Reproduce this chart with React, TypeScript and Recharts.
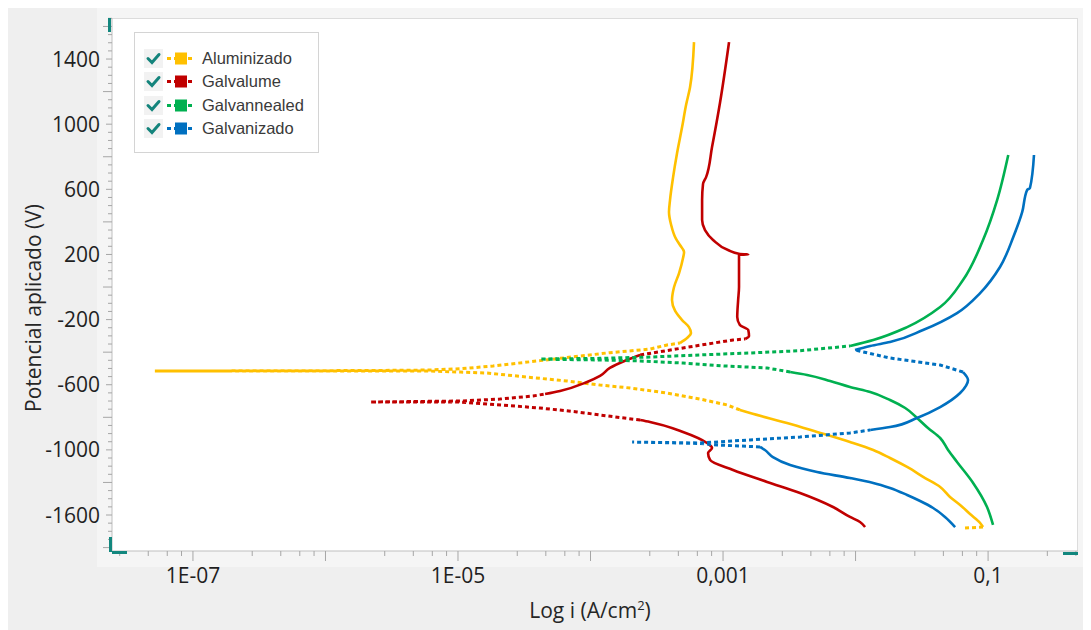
import React from 'react';
import { LineChart, Line, XAxis, YAxis } from 'recharts';

type Pt = [number, number]; // [i (A/cm2), E]

// Aluminizado
const aluStart: Pt[] = [[6.7e-2, -1480], [9.16e-2, -1474]];
const aluCathodic: Pt[] = [
  [9.16e-2, -1474], [8.71e-2, -1449], [7.31e-2, -1394], [6.15e-2, -1338], [5.16e-2, -1289],
  [4.35e-2, -1228], [3.35e-2, -1173], [2.45e-2, -1105], [1.82e-2, -1050], [1.36e-2, -1001],
  [9.08e-3, -952], [5.12e-3, -890], [3.04e-3, -835], [1.6e-3, -774], [1.34e-3, -755],
];
const aluEcorr: Pt[] = [
  [1.34e-3, -755], [1.07e-3, -724], [6.7e-4, -688], [3.78e-4, -651], [1.99e-4, -620],
  [1.18e-4, -602], [6.65e-5, -577], [3.32e-5, -553], [1.66e-5, -528], [1.04e-5, -522],
  [6.15e-6, -516], [1.82e-6, -516], [2.69e-7, -516], [5.16e-8, -516], [1.82e-6, -513],
  [5.83e-6, -510], [1.04e-5, -502], [1.84e-5, -485], [4.16e-5, -452], [5.89e-5, -438],
  [1.4e-4, -403], [2.81e-4, -381], [3.78e-4, -356], [4.73e-4, -344],
];
const aluAnodic: Pt[] = [
  [4.73e-4, -344], [5.35e-4, -313], [5.73e-4, -282], [5.53e-4, -246], [4.91e-4, -203],
  [4.35e-4, -147], [4.12e-4, -80], [4.27e-4, 0], [4.66e-4, 86], [4.99e-4, 178],
  [5.08e-4, 215], [4.73e-4, 258], [4.42e-4, 295], [4.06e-4, 381], [3.91e-4, 461],
  [3.98e-4, 534], [4.2e-4, 675], [4.5e-4, 823], [4.91e-4, 982], [5.26e-4, 1118],
  [5.64e-4, 1228], [6.04e-4, 1504],
];

// Galvalume
const galCathodic: Pt[] = [
  [1.18e-2, -1474], [1.08e-2, -1443], [9.08e-3, -1412], [6.76e-3, -1351], [3.81e-3, -1265],
  [2.15e-3, -1197], [1.19e-3, -1124], [7.98e-4, -1062], [7.71e-4, -1019], [8.26e-4, -988],
  [7.57e-4, -958], [4.99e-4, -890], [2.81e-4, -829], [2.37e-4, -817],
];
const galEcorr: Pt[] = [
  [2.37e-4, -817], [1.18e-4, -786], [7.91e-5, -767], [4.16e-5, -743], [1.66e-5, -718],
  [1.04e-5, -706], [2.17e-6, -706], [1.04e-5, -700], [2.07e-5, -688], [3.68e-5, -669],
  [4.54e-5, -657],
];
const galActive: Pt[] = [
  [4.54e-5, -657], [5.89e-5, -638], [9.42e-5, -583], [1.18e-4, -546], [1.4e-4, -497],
  [1.88e-4, -448], [2.37e-4, -417],
];
const galTransition: Pt[] = [[2.37e-4, -417], [4.99e-4, -374], [1.19e-3, -325], [1.47e-3, -319]];
const galPassive: Pt[] = [
  [1.47e-3, -319], [1.57e-3, -301], [1.55e-3, -264], [1.34e-3, -233], [1.28e-3, -184],
  [1.3e-3, -80], [1.32e-3, 0], [1.32e-3, 197], [1.55e-3, 200], [1.34e-3, 203],
  [1.09e-3, 227], [8.41e-4, 289], [7.31e-4, 350], [6.95e-4, 411], [6.95e-4, 534],
  [7.06e-4, 632], [7.45e-4, 675], [8.26e-4, 860], [9.48e-4, 1130], [1.11e-3, 1504],
];

// Galvannealed
const gvnCathodic: Pt[] = [
  [0.109, -1461], [9.82e-2, -1351], [7.71e-2, -1203], [5.83e-2, -1074], [4.99e-2, -1001],
  [4.35e-2, -927], [3.52e-2, -866], [2.91e-2, -804], [2.37e-2, -743], [1.82e-2, -694],
  [1.29e-2, -645], [9.08e-3, -614], [6.43e-3, -577], [4.31e-3, -540], [3.21e-3, -522],
];
const gvnEcorr: Pt[] = [
  [3.21e-3, -522], [2.15e-3, -497], [1.04e-3, -485], [4.99e-4, -467], [2.37e-4, -454],
  [1.18e-4, -448], [5.89e-5, -445], [4.16e-5, -442], [1.18e-4, -438], [2.81e-4, -430],
  [6.7e-4, -417], [1.6e-3, -405], [3.81e-3, -391], [9.08e-3, -362],
];
const gvnAnodic: Pt[] = [
  [9.08e-3, -362], [1.36e-2, -325], [2.45e-2, -246], [4.35e-2, -123], [6.47e-2, 43],
  [9.16e-2, 289], [0.117, 534], [0.142, 811],
];

// Galvanizado
const gvzCathodic: Pt[] = [
  [5.64e-2, -1474], [4.73e-2, -1412], [3.85e-2, -1357], [3.07e-2, -1314], [2.45e-2, -1277],
  [1.82e-2, -1234], [1.36e-2, -1203], [9.08e-3, -1173], [5.12e-3, -1136], [3.21e-3, -1093],
  [2.38e-3, -1044], [2.07e-3, -1001], [1.9e-3, -982],
];
const gvzEcorr: Pt[] = [
  [1.9e-3, -982], [1.34e-3, -976], [9.02e-4, -970], [6.7e-4, -961], [3.35e-4, -955],
  [2.06e-4, -952], [6.7e-4, -958], [1.6e-3, -939], [3.81e-3, -921], [9.08e-3, -896],
  [1.29e-2, -878],
];
const gvzPeak: Pt[] = [
  [1.29e-2, -878], [1.82e-2, -860], [2.91e-2, -804], [4.35e-2, -737], [6.15e-2, -651],
  [7.06e-2, -571], [6.47e-2, -522],
];
const gvzReturn: Pt[] = [[6.47e-2, -522], [4.35e-2, -479], [1.82e-2, -436], [9.91e-3, -387]];
const gvzAnodic: Pt[] = [
  [9.91e-3, -387], [1.29e-2, -362], [1.82e-2, -338], [3.23e-2, -264], [5.83e-2, -160],
  [8.71e-2, -37], [0.123, 123], [0.155, 307], [0.181, 461], [0.197, 596], [0.207, 608],
  [0.222, 811],
];

const seriesNames = ['Aluminizado', 'Galvalume', 'Galvannealed', 'Galvanizado'];
const seriesColors = ['#FFC000', '#C00000', '#00B050', '#0070C0'];
// each segment: [points, sparse (drawn dotted)]
const seriesSegments: [Pt[], boolean][][] = [
  [[aluStart, true], [aluCathodic, false], [aluEcorr, true], [aluAnodic, false]],
  [[galCathodic, false], [galEcorr, true], [galActive, false], [galTransition, true], [galPassive, false]],
  [[gvnCathodic, false], [gvnEcorr, true], [gvnAnodic, false]],
  [[gvzCathodic, false], [gvzEcorr, true], [gvzPeak, false], [gvzReturn, true], [gvzAnodic, false]],
];

const xDomain = [2.45e-8, 0.477];
const xMinorSteps = [1, 2.8, 4.6, 6.4, 8.2];
const xLabelExps = [-7, -5, -3, -1];
const xLabels = ['1E-07', '1E-05', '0,001', '0,1'];

const yDomain = [-1621, 1652];
const yTickValues = [1400, 1000, 600, 200, -200, -600, -1000, -1400];
const yTickLabels = ['1400', '1000', '600', '200', '-200', '-600', '-1000', '-1600'];

const xTicks: number[] = [];
for (let k = -8; k <= -1; k++) {
  xMinorSteps.forEach((m) => {
    const v = m * Math.pow(10, k);
    if (v >= xDomain[0] && v <= xDomain[1]) xTicks.push(v);
  });
}
const yTicks: number[] = [];
for (let v = -1600; v <= 1650; v += 50) yTicks.push(v);

const FONT = '"Open Sans", sans-serif';
const TICK_COLOR = '#a6a6a6';

function XTick(props: any) {
  const { x, y, payload } = props;
  const lg = Math.log10(payload.value);
  const exp = Math.round(lg);
  const major = Math.abs(lg - exp) < 1e-6;
  const idx = major ? xLabelExps.indexOf(exp) : -1;
  return (
    <g>
      <line x1={x} x2={x} y1={y} y2={y + (major ? 10 : 5)} stroke={TICK_COLOR} strokeWidth={1} />
      {idx >= 0 && (
        <text x={x} y={y + 32} textAnchor="middle" fontFamily={FONT} fontSize={21} fill="#1f1f1f">
          {xLabels[idx]}
        </text>
      )}
    </g>
  );
}

function YTick(props: any) {
  const { x, y, payload } = props;
  const v = payload.value;
  const idx = yTickValues.indexOf(v);
  const mid = idx < 0 && v % 400 === 0;
  const len = idx >= 0 ? 6 : mid ? 9 : 4;
  return (
    <g>
      <line x1={x} x2={x - len} y1={y} y2={y} stroke={TICK_COLOR} strokeWidth={1} />
      {idx >= 0 && (
        <text x={x - 12} y={y} dy="0.36em" textAnchor="end" fontFamily={FONT} fontSize={21} fill="#1f1f1f">
          {yTickLabels[idx]}
        </text>
      )}
    </g>
  );
}

function Check() {
  return (
    <svg width={19} height={19} style={{ position: 'absolute', left: 9, top: 0 }}>
      <rect x={0} y={0} width={19} height={19} fill="#f2f2f2" />
      <path d="M4 9.5 L8 13.5 L15 5.5" fill="none" stroke="#14847c" strokeWidth={3} strokeLinecap="round" />
    </svg>
  );
}

function LegendBox() {
  return (
    <div
      style={{
        position: 'absolute', left: 126, top: 24, width: 183, height: 119,
        background: '#fff', border: '1px solid #d4d4d4',
      }}
    >
      {seriesNames.map((name, k) => (
        <div key={name} style={{ position: 'absolute', left: 0, top: 16 + k * 23.3, width: 183, height: 19 }}>
          <Check />
          <svg width={28} height={19} style={{ position: 'absolute', left: 32, top: 0 }}>
            <line x1={0} x2={28} y1={9.5} y2={9.5} stroke={seriesColors[k]} strokeWidth={3} strokeDasharray="4 3" />
            <rect x={8} y={3.5} width={12} height={12} fill={seriesColors[k]} />
          </svg>
          <span
            style={{
              position: 'absolute', left: 67, top: 0, lineHeight: '19px',
              fontFamily: '"Liberation Sans", Arial, sans-serif', fontSize: 16.5, color: '#3a3a3a',
              whiteSpace: 'nowrap',
            }}
          >
            {name}
          </span>
        </div>
      ))}
    </div>
  );
}

const teal = '#12877e';

export default function App() {
  return (
    <div style={{ position: 'relative', width: 1083, height: 622, background: '#efefef', overflow: 'hidden' }}>
      <div style={{ position: 'absolute', left: 89, top: 0, width: 994, height: 559, background: '#f5f5f5' }} />
      <div
        style={{
          position: 'absolute', left: 104, top: 10, width: 966, height: 533, background: '#fff',
          borderTop: '1px solid #dcdcdc', borderRight: '1px solid #dcdcdc', boxSizing: 'border-box',
        }}
      />
      <div style={{ position: 'absolute', left: 0, top: 0 }}>
        <LineChart width={1083} height={622} margin={{ top: 10, right: 13, left: 0, bottom: 39 }}>
          <XAxis
            dataKey="i"
            type="number"
            scale="log"
            domain={xDomain}
            allowDataOverflow
            ticks={xTicks}
            interval={0}
            tickSize={0}
            tickMargin={0}
            tickLine={false}
            tick={<XTick />}
            axisLine={{ stroke: '#bfbfbf' }}
            height={40}
          />
          <YAxis
            dataKey="e"
            type="number"
            domain={yDomain}
            allowDataOverflow
            ticks={yTicks}
            interval={0}
            tickSize={0}
            tickMargin={0}
            tickLine={false}
            tick={<YTick />}
            axisLine={{ stroke: '#bfbfbf' }}
            width={104}
          />
          {seriesSegments.map((segs, k) =>
            segs.map(([pts, sparse], j) => (
              <Line
                key={`${seriesNames[k]}-${j}`}
                data={pts.map(([i, e]) => ({ i, e }))}
                dataKey="e"
                type={sparse ? 'linear' : 'monotoneY'}
                stroke={seriesColors[k]}
                strokeWidth={sparse ? 3 : 2.6}
                strokeDasharray={sparse ? '4 3' : undefined}
                dot={false}
                activeDot={false}
                isAnimationActive={false}
                legendType="none"
              />
            )),
          )}
        </LineChart>
      </div>
      <LegendBox />
      <div style={{ position: 'absolute', left: 100, top: 10, width: 3, height: 14, background: teal }} />
      <div style={{ position: 'absolute', left: 101, top: 529, width: 3, height: 15, background: teal }} />
      <div style={{ position: 'absolute', left: 104, top: 543, width: 15, height: 3, background: teal }} />
      <div style={{ position: 'absolute', left: 1055, top: 544, width: 15, height: 3, background: teal }} />
      <div
        style={{
          position: 'absolute', left: 582, top: 588, transform: 'translateX(-50%)',
          fontFamily: FONT, fontSize: 21, color: '#262626', whiteSpace: 'nowrap',
        }}
      >
        Log i (A/cm<sup style={{ fontSize: 13 }}>2</sup>)
      </div>
      <div
        style={{
          position: 'absolute', left: 25, top: 300, transform: 'translate(-50%, -50%) rotate(-90deg)',
          fontFamily: FONT, fontSize: 21, color: '#262626', whiteSpace: 'nowrap',
        }}
      >
        Potencial aplicado (V)
      </div>
    </div>
  );
}
